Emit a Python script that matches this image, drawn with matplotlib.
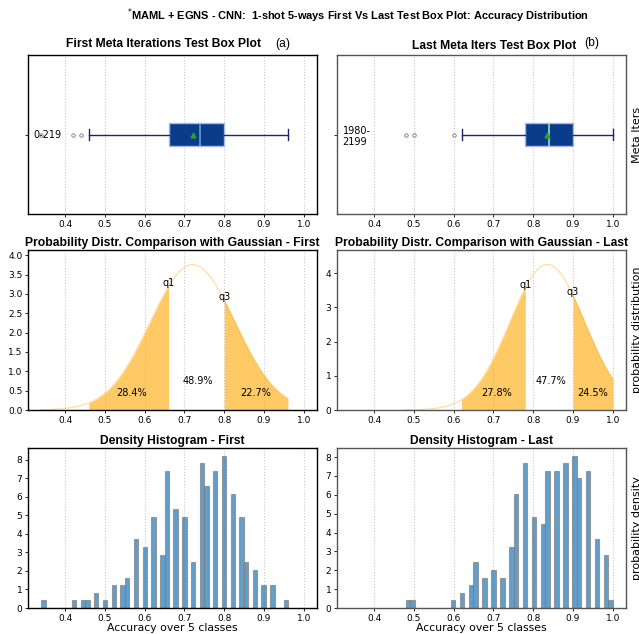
import math
import numpy as np
import matplotlib
matplotlib.use("Agg")
import matplotlib.pyplot as plt
from matplotlib.ticker import MultipleLocator

# accuracy levels hit by the test episodes and how many episodes got each one
first_acc = [0.34, 0.42, 0.44, 0.46, 0.48, 0.50, 0.52, 0.54, 0.56, 0.58, 0.60, 0.62, 0.64, 0.66,
             0.68, 0.70, 0.72, 0.74, 0.76, 0.78, 0.80, 0.82, 0.84, 0.86, 0.88, 0.90, 0.92, 0.96]
first_cnt = [1, 1, 1, 1, 2, 1, 3, 3, 4, 9, 8, 12, 7, 18,
             13, 12, 6, 19, 16, 18, 20, 15, 12, 6, 5, 3, 3, 1]

last_acc = [0.48, 0.50, 0.60, 0.62, 0.64, 0.66, 0.68, 0.70, 0.72, 0.74, 0.76, 0.78,
            0.80, 0.82, 0.84, 0.86, 0.88, 0.90, 0.92, 0.94, 0.96, 0.98, 1.00]
last_cnt = [1, 1, 1, 2, 3, 6, 4, 5, 4, 8, 15, 19,
            12, 11, 18, 18, 19, 20, 17, 18, 9, 7, 1]

iter_labels = ["0-219", "1980-\n2199"]
hist_bins = [56, 46]
box_titles = ["First Meta Iterations Test Box Plot", "Last Meta Iters Test Box Plot"]
panel_tags = ["(a)", "(b)"]
names = ["First", "Last"]
suptitle = r"$^{*}$MAML + EGNS - CNN:  1-shot 5-ways First Vs Last Test Box Plot: Accuracy Distribution"

plt.rcParams['font.family'] = ['DejaVu Sans']
BOLD = dict(family='Liberation Sans', fontweight='bold', fontsize=8.7)

W, H = 639, 634
fig = plt.figure(figsize=(W / 100, H / 100), dpi=100)


def add_ax(x0, y0, x1, y1):
    return fig.add_axes([x0 / W, 1 - y1 / H, (x1 - x0) / W, (y1 - y0) / H])


def norm_pdf(x, mu, sd):
    return np.exp(-0.5 * ((x - mu) / sd) ** 2) / (sd * np.sqrt(2 * np.pi))


def norm_cdf(x, mu, sd):
    return 0.5 * (1 + math.erf((x - mu) / (sd * math.sqrt(2))))


datasets = [np.repeat(first_acc, first_cnt), np.repeat(last_acc, last_cnt)]
lo = min(d.min() for d in datasets)
hi = max(d.max() for d in datasets)
xlim = (lo - 0.05 * (hi - lo), hi + 0.05 * (hi - lo))

cols = [(28, 317), (337, 626)]
rows = [(55, 214), (250, 410), (448, 608)]
median_colors = ['#5aa6c8', '#8fe3a8']
spine_colors = ['black', '#555555']

for c, data in enumerate(datasets):
    x0, x1 = cols[c]
    axes = [add_ax(x0, r[0], x1, r[1]) for r in rows]
    for ax in axes:
        ax.set_xlim(xlim)
        ax.xaxis.set_major_locator(MultipleLocator(0.1))
        ax.grid(axis='x', linestyle=':', color='#c8c8c8', lw=0.8)
        ax.set_axisbelow(True)
        ax.tick_params(labelsize=6.5, length=2.5, width=0.6, pad=1.5)
        for s in ax.spines.values():
            s.set_color(spine_colors[c])
            s.set_linewidth(1.0)

    # box plot
    ax = axes[0]
    bp = ax.boxplot(data, orientation='horizontal', widths=0.15, patch_artist=True, showmeans=True,
                    boxprops=dict(facecolor='#0b3c8c', edgecolor='#a8b8e8', lw=1),
                    medianprops=dict(color=median_colors[c], lw=1.2),
                    whiskerprops=dict(color='#1c2470', lw=1),
                    capprops=dict(color='#1c2470', lw=1),
                    meanprops=dict(marker='^', markerfacecolor='#2ca02c',
                                   markeredgecolor='#2ca02c', markersize=3.5),
                    flierprops=dict(marker='o', markersize=2.5, markerfacecolor='none',
                                    markeredgecolor='#777777', markeredgewidth=0.6))
    ax.set_xlim(xlim)
    ax.set_yticks([1], [iter_labels[c]])
    for t in ax.get_yticklabels():
        t.set_horizontalalignment('left')
        t.set_fontsize(7)
    ax.tick_params(axis='y', pad=-6.5)
    whislo = bp['whiskers'][0].get_xdata()[1]
    whishi = bp['whiskers'][1].get_xdata()[1]

    # gaussian with the same mean / std
    ax = axes[1]
    mu, sd = data.mean(), data.std()
    q1, q3 = np.percentile(data, [25, 75])
    xs = np.linspace(data.min(), data.max(), 300)
    pdf = norm_pdf(xs, mu, sd)
    peak = pdf.max()
    ax.plot(xs, pdf, color='orange', alpha=0.4, lw=0.8)
    for a, b in [(whislo, q1), (q3, whishi)]:
        seg = np.linspace(a, b, 100)
        ax.fill_between(seg, norm_pdf(seg, mu, sd), color='orange', alpha=0.6, lw=0)
    ax.set_ylim(0, 1.1 * peak)
    ax.yaxis.set_major_locator(MultipleLocator(0.5 if c == 0 else 1))
    if c == 0:
        ax.yaxis.set_major_formatter('{x:.1f}')
    p_lo = norm_cdf(q1, mu, sd)
    p_hi = 1 - norm_cdf(q3, mu, sd)
    p_mid = 1 - p_lo - p_hi
    ax.text(q1, norm_pdf(q1, mu, sd), 'q1', ha='center', fontsize=7)
    ax.text(q3, norm_pdf(q3, mu, sd), 'q3', ha='center', fontsize=7)
    ax.text((whislo + q1) / 2 + 0.008, 0.115 * peak, f'{p_lo * 100:.1f}%', ha='center', va='center', fontsize=7)
    ax.text((q1 + q3) / 2 + 0.004, 0.2 * peak, f'{p_mid * 100:.1f}%', ha='center', va='center', fontsize=7)
    ax.text((q3 + whishi) / 2, 0.115 * peak, f'{p_hi * 100:.1f}%', ha='center', va='center', fontsize=7)
    ax.set_title(f'Probability Distr. Comparison with Gaussian - {names[c]}', pad=3, **BOLD)

    # density histogram
    ax = axes[2]
    ax.hist(data, bins=hist_bins[c], density=True, color='tab:blue', alpha=0.7,
            edgecolor='gray', linewidth=0.8)
    ax.yaxis.set_major_locator(MultipleLocator(1))
    ax.set_xlabel('Accuracy over 5 classes', fontsize=7.8, labelpad=0)
    ax.set_title(f'Density Histogram - {names[c]}', pad=3, **BOLD)

    if c == 1:
        for ax, lab in zip(axes, ['Meta Iters', 'probability distribution', 'probability density']):
            ax.yaxis.set_label_position('right')
            ax.set_ylabel(lab, fontsize=8, labelpad=4)

# top row titles, placed by hand like the original
fig.text(164 / W, 1 - 44 / H, box_titles[0], ha='center', va='center', **BOLD)
fig.text(283 / W, 1 - 44 / H, panel_tags[0], ha='center', va='center', family='Liberation Sans', fontsize=8.7)
fig.text(494 / W, 1 - 46 / H, box_titles[1], ha='center', va='center', **BOLD)
fig.text(592 / W, 1 - 43 / H, panel_tags[1], ha='center', va='center', family='Liberation Sans', fontsize=8.7)
fig.text(358 / W, 1 - 16 / H, suptitle, ha='center', va='center',
         family='Liberation Sans', fontweight='bold', fontsize=7.9)

fig.savefig('out.png', dpi=100)
